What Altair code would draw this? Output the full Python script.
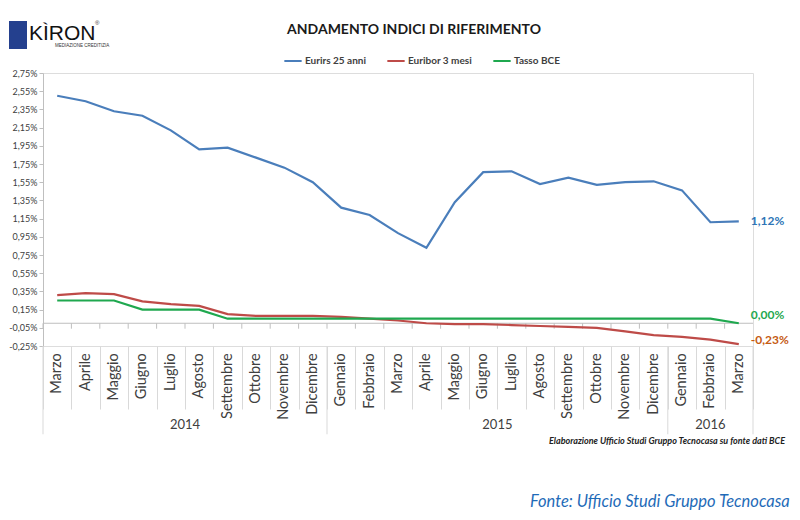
import altair as alt
import pandas as pd

# ---- data ----
months = ["Marzo", "Aprile", "Maggio", "Giugno", "Luglio", "Agosto", "Settembre", "Ottobre",
          "Novembre", "Dicembre", "Gennaio", "Febbraio", "Marzo", "Aprile", "Maggio", "Giugno",
          "Luglio", "Agosto", "Settembre", "Ottobre", "Novembre", "Dicembre", "Gennaio",
          "Febbraio", "Marzo"]
years = [2014] * 10 + [2015] * 12 + [2016] * 3
eurirs_25 = [2.50, 2.44, 2.33, 2.28, 2.12, 1.91, 1.93, 1.82, 1.71, 1.55, 1.27, 1.19, 0.99,
             0.83, 1.33, 1.66, 1.67, 1.53, 1.60, 1.52, 1.55, 1.56, 1.46, 1.11, 1.12]
euribor_3m = [0.31, 0.33, 0.32, 0.24, 0.21, 0.19, 0.10, 0.08, 0.08, 0.08, 0.07, 0.05, 0.03,
              0.00, -0.01, -0.01, -0.02, -0.03, -0.04, -0.05, -0.09, -0.13, -0.15, -0.18, -0.23]
tasso_bce = [0.25, 0.25, 0.25, 0.15, 0.15, 0.15, 0.05, 0.05, 0.05, 0.05, 0.05, 0.05, 0.05,
             0.05, 0.05, 0.05, 0.05, 0.05, 0.05, 0.05, 0.05, 0.05, 0.05, 0.05, 0.00]
series_names = ["Eurirs 25 anni", "Euribor 3 mesi", "Tasso BCE"]
series_colors = ["#4A7EBB", "#BE4B48", "#1FA84F"]
label_colors = ["#2E75B6", "#C55A11", "#1FA84F"]
label_dy = [0, -4, -8]
y_ticks = [-0.25, -0.05, 0.15, 0.35, 0.55, 0.75, 0.95, 1.15, 1.35, 1.55, 1.75, 1.95,
           2.15, 2.35, 2.55, 2.75]
year_labels = ["2014", "2015", "2016"]
year_center_idx = [5, 16, 23]
year_center_band = [0, 0, 0.5]
year_bound_idx = [0, 10, 22, 24]
year_bound_band = [0, 0, 0, 1]
title_text = "ANDAMENTO INDICI DI RIFERIMENTO"
note_text = "Elaborazione Ufficio Studi Gruppo Tecnocasa su fonte dati BCE"
fonte_text = "Fonte: Ufficio Studi Gruppo Tecnocasa"

keys = [f"{m} {y}" for m, y in zip(months, years)]
values = [eurirs_25, euribor_3m, tasso_bce]

rows = []
for name, vals in zip(series_names, values):
    for k, v in zip(keys, vals):
        rows.append({"serie": name, "mese": k, "valore": v})
df = pd.DataFrame(rows)
cat_df = pd.DataFrame({"mese": keys, "nome": months})

W, H = 710, 273
xscale = alt.Scale(type="band", domain=keys, paddingInner=0, paddingOuter=0)
yscale = alt.Scale(domain=[-0.25, 2.75], nice=False, zero=False)
FONT = "Lato"

x_axis = alt.Axis(orient="bottom", domain=False, ticks=True, tickBand="extent",
                  tickSize=63, tickColor="#d9d9d9", tickWidth=1, labels=False, title=None)
y_axis = alt.Axis(values=y_ticks, grid=False, domainColor="#bfbfbf",
                  tickColor="#bfbfbf", tickSize=4, labelFontSize=9,
                  labelColor="#404040", labelFont=FONT, labelPadding=2,
                  labelOverlap=False, title=None,
                  labelExpr="replace(replace(format(datum.value, '.2f'), '.', ','), '\u2212', '-') + '%'")


def X(bp=None):
    if bp is None:
        return alt.X("mese:N", scale=xscale, sort=keys, axis=x_axis)
    return alt.X("mese:N", scale=xscale, sort=keys, bandPosition=bp, axis=x_axis)


def YD(v):
    return alt.YDatum(v, scale=yscale, axis=y_axis)


YV = alt.Y("valore:Q", scale=yscale, axis=y_axis)

zero_ticks = alt.Chart(cat_df).mark_rule(color="#bfbfbf", strokeWidth=1).encode(
    x=X(0),
    y=YD(0),
    y2=alt.datum(-0.06),
)

zero_rule = alt.Chart(cat_df.head(1)).mark_rule(color="#bfbfbf", strokeWidth=1).encode(
    y=YD(0)
)

month_labels = alt.Chart(cat_df).mark_text(
    angle=270, align="right", baseline="middle", fontSize=14.5, color="#404040", font=FONT
).encode(
    x=X(),
    y=YD(-0.33),
    text="nome:N",
)

lines = alt.Chart(df).mark_line(strokeWidth=2.2).encode(
    x=X(),
    y=YV,
    color=alt.Color("serie:N", scale=alt.Scale(domain=series_names, range=series_colors),
                    legend=alt.Legend(orient="none", direction="horizontal", title=None,
                                      legendX=240, legendY=-22, symbolType="stroke",
                                      symbolStrokeWidth=2, symbolSize=300,
                                      labelFontSize=10, labelFontWeight="bold",
                                      labelColor="#404040", labelFont=FONT,
                                      columnPadding=17, labelOffset=2)),
)

ybound_df = pd.DataFrame({"mese": [keys[i] for i in year_bound_idx], "bp": year_bound_band})
year_rules = []
for bp in sorted(set(year_bound_band)):
    year_rules.append(
        alt.Chart(ybound_df[ybound_df.bp == bp]).mark_rule(color="#d9d9d9", strokeWidth=1).encode(
            x=X(bp),
            y=YD(-0.25),
            y2=alt.datum(-1.22),
        )
    )

year_texts = []
for lab, idx, bp in zip(year_labels, year_center_idx, year_center_band):
    year_texts.append(
        alt.Chart(pd.DataFrame({"mese": [keys[idx]], "anno": [lab]})).mark_text(
            fontSize=13, color="#404040", font=FONT, baseline="middle"
        ).encode(
            x=X(bp),
            y=YD(-1.12),
            text="anno:N",
        )
    )

end_labels = []
for name, vals, col, dy in zip(series_names, values, label_colors, label_dy):
    txt = f"{vals[-1]:.2f}".replace(".", ",") + "%"
    end_labels.append(
        alt.Chart(pd.DataFrame({"mese": [keys[-1]], "valore": [vals[-1]], "t": [txt]})).mark_text(
            align="left", baseline="middle", dx=12, dy=dy, fontSize=12, fontWeight="bold",
            color=col, font=FONT
        ).encode(
            x=X(),
            y=YV,
            text="t:N",
        )
    )

one = pd.DataFrame({"a": [0]})
title = alt.Chart(one).mark_text(
    text=title_text, align="center", baseline="middle", fontSize=14, fontWeight="bold",
    color="#1a1a1a", font=FONT
).encode(x=alt.value(371), y=alt.value(-43))
logo_rect = alt.Chart(one).mark_rect(color="#24408E").encode(
    x=alt.value(-34), x2=alt.value(-16), y=alt.value(-52), y2=alt.value(-24)
)
logo_text = alt.Chart(one).mark_text(
    text="KÌRON", align="left", baseline="alphabetic", fontSize=21, color="#111111",
    font="Liberation Sans"
).encode(x=alt.value(-14), y=alt.value(-33))
logo_sub = alt.Chart(one).mark_text(
    text="MEDIAZIONE CREDITIZIA", align="left", baseline="middle", fontSize=4.5,
    color="#333333", font="Liberation Sans"
).encode(x=alt.value(12), y=alt.value(-27))
logo_reg = alt.Chart(one).mark_text(
    text="®", align="left", baseline="middle", fontSize=6, color="#333333"
).encode(x=alt.value(52), y=alt.value(-50))

note = alt.Chart(one).mark_text(
    text=note_text, align="right", baseline="middle", fontSize=9, fontWeight="bold",
    fontStyle="italic", color="#222222", font=FONT
).encode(x=alt.value(742), y=alt.value(368))

fonte = alt.Chart(one).mark_text(
    text=fonte_text, align="left", baseline="middle", fontSize=16.5, fontStyle="italic",
    color="#1F6BB8", font=FONT
).encode(x=alt.value(487), y=alt.value(429))

chart = alt.layer(
    zero_ticks, zero_rule, *year_rules, month_labels, lines, *end_labels, *year_texts,
    title, logo_rect, logo_text, logo_sub, logo_reg, note, fonte
).properties(
    width=W, height=H,
    autosize=alt.AutoSizeParams(type="none"),
    padding={"left": 35, "top": 65, "right": 39, "bottom": 166},
).configure_view(stroke=None).configure(background="white")

chart.save("out.html", embed_options={"renderer": "svg", "actions": False})
